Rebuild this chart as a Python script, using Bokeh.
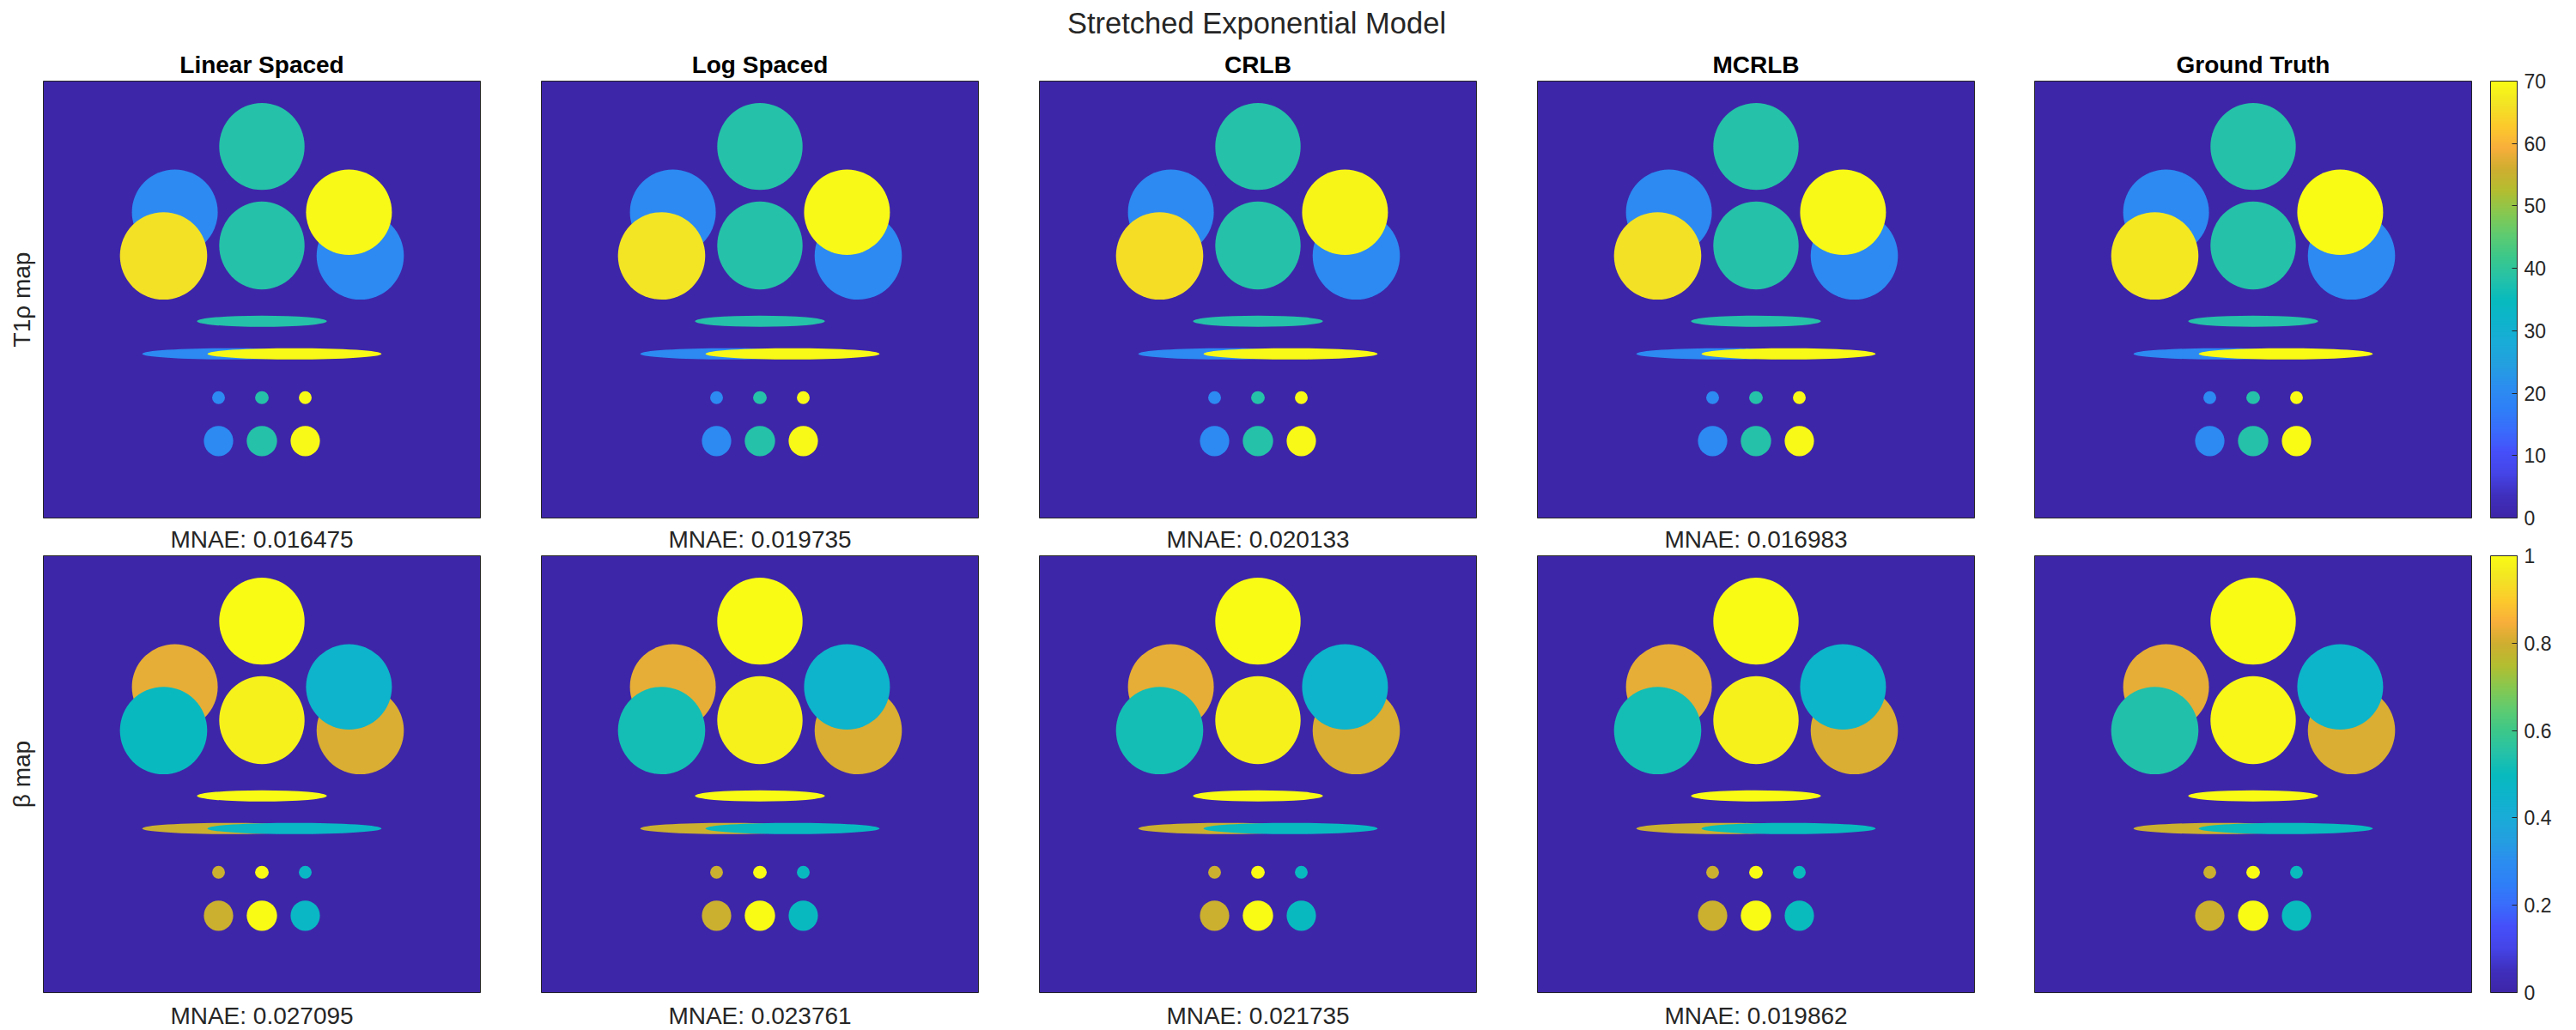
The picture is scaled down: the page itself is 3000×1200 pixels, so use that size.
import numpy as np
from bokeh.embed import file_html
from bokeh.layouts import column, row
from bokeh.models import ColorBar, ColumnDataSource, FixedTicker, LinearColorMapper, Range1d
from bokeh.plotting import figure
from bokeh.resources import INLINE
from bokeh.transform import transform

# ---- data -----------------------------------------------------------------
suptitle = "Stretched Exponential Model"
methods = ["Linear Spaced", "Log Spaced", "CRLB", "MCRLB", "Ground Truth"]
row_labels = ["T1\u03c1 map", "\u03b2 map"]
mnae_t1 = ["MNAE: 0.016475", "MNAE: 0.019735", "MNAE: 0.020133", "MNAE: 0.016983", ""]
mnae_beta = ["MNAE: 0.027095", "MNAE: 0.023761", "MNAE: 0.021735", "MNAE: 0.019862", ""]

# phantom compartments, in image pixels (256 x 256), back to front
shape_x = [128.0, 128.0, 77.0, 70.4, 185.6, 179.0, 128.0, 108.9, 147.1, 102.6, 128.0, 153.4, 102.6, 128.0, 153.4]
shape_y = [38.3, 96.3, 76.8, 102.4, 102.4, 76.8, 140.7, 159.8, 159.8, 185.5, 185.5, 185.5, 210.9, 210.9, 210.9]
shape_w = [50.0, 50.0, 50.3, 51.1, 51.1, 50.3, 76.0, 102.0, 102.0, 7.5, 8.0, 7.5, 17.2, 17.8, 17.2]
shape_h = [51.0, 51.5, 50.1, 51.3, 51.3, 50.1, 6.6, 6.6, 6.6, 7.5, 7.5, 7.5, 17.8, 17.8, 17.8]

# mean value of each compartment, per method
t1_linear = [38.5, 38.5, 20, 66.0, 20, 69.5, 38.5, 20, 69.5, 20, 38.5, 69.5, 20, 38.5, 69.5]
t1_log    = [38.5, 38.5, 20, 66.5, 20, 69.5, 38.5, 20, 69.5, 20, 38.5, 69.5, 20, 38.5, 69.5]
t1_crlb   = [38.5, 38.5, 20, 65.5, 20, 69.0, 38.5, 20, 69.5, 20, 38.5, 69.5, 20, 38.5, 69.5]
t1_mcrlb  = [38.5, 38.5, 20, 66.0, 20, 69.5, 38.5, 20, 69.5, 20, 38.5, 69.5, 20, 38.5, 69.5]
t1_truth  = [38.5, 38.5, 20, 67.0, 20, 70.0, 38.5, 20, 70.0, 20, 38.5, 70.0, 20, 38.5, 70.0]

beta_linear = [1.0, 0.98, 0.825, 0.49, 0.81, 0.45, 1.0, 0.79, 0.48, 0.79, 1.0, 0.48, 0.79, 1.0, 0.48]
beta_log    = [1.0, 0.98, 0.825, 0.52, 0.81, 0.45, 1.0, 0.79, 0.49, 0.79, 1.0, 0.49, 0.79, 1.0, 0.49]
beta_crlb   = [1.0, 0.98, 0.825, 0.52, 0.81, 0.45, 1.0, 0.79, 0.49, 0.79, 1.0, 0.49, 0.79, 1.0, 0.49]
beta_mcrlb  = [1.0, 0.98, 0.825, 0.52, 0.81, 0.46, 1.0, 0.79, 0.50, 0.79, 1.0, 0.50, 0.79, 1.0, 0.50]
beta_truth  = [1.0, 0.99, 0.825, 0.54, 0.81, 0.46, 1.0, 0.79, 0.50, 0.79, 1.0, 0.50, 0.79, 1.0, 0.50]

t1_rows = [t1_linear, t1_log, t1_crlb, t1_mcrlb, t1_truth]
beta_rows = [beta_linear, beta_log, beta_crlb, beta_mcrlb, beta_truth]

t1_ticks = [0, 10, 20, 30, 40, 50, 60, 70]
t1_tick_labels = ["0", "10", "20", "30", "40", "50", "60", "70"]
beta_ticks = [0, 0.2, 0.4, 0.6, 0.8, 1]
beta_tick_labels = ["0", "0.2", "0.4", "0.6", "0.8", "1"]

# colour map, bottom to top
cmap_stops = ["#3E26A8", "#4030BE", "#4545E8", "#4650FA", "#3A6CFC", "#2F80F8", "#2C8EF0",
              "#24A0E0", "#1AACD8", "#0EB4CC", "#08BBBE", "#26C2A8", "#3DC88A", "#60CC70",
              "#88C850", "#B4BE30", "#D0AE30", "#F9AF3C", "#FDCB2C", "#F3E425", "#F9FB15"]

# ---- layout (page pixels; the page is drawn from its very corner) ------------
FONT = "Liberation Sans"
INK = "#262626"
FRAME = 509
frame_left = [50, 630, 1210, 1790, 2369]
fig_start = [0, 600, 1180, 1760, 2339]
cb_start = 2888
HEAD_H = 54
CB_H = 1146


def build_palette(stops, n=256):
    rgb = np.array([[int(s[i:i + 2], 16) for i in (1, 3, 5)] for s in stops], float)
    pos = np.linspace(0, 1, len(stops))
    at = np.linspace(0, 1, n)
    chans = [np.interp(at, pos, rgb[:, c]) for c in range(3)]
    return ["#%02X%02X%02X" % (int(r), int(g), int(b)) for r, g, b in zip(*chans)]


palette = build_palette(cmap_stops)
mapper_t1 = LinearColorMapper(palette=palette, low=0, high=70)
mapper_beta = LinearColorMapper(palette=palette, low=0, high=1)


def panel(values, mapper, i, title, xlabel, ylabel, top, bottom, xstandoff):
    next_start = fig_start[i + 1] if i < 4 else cb_start
    left = frame_left[i] - fig_start[i]
    right = next_start - frame_left[i] - FRAME
    p = figure(frame_width=FRAME, frame_height=FRAME, output_backend="svg", toolbar_location=None,
               x_range=Range1d(0, 256), y_range=Range1d(256, 0),
               min_border_left=left, min_border_right=right, min_border_top=top, min_border_bottom=bottom,
               background_fill_color=cmap_stops[0], border_fill_color="white",
               outline_line_color=INK, outline_line_width=1)
    p.grid.visible = False
    if title:
        p.title.text = title
        p.title.align = "center"
        p.title.text_font = FONT
        p.title.text_font_size = "28px"
        p.title.text_font_style = "bold"
        p.title.text_color = "black"
        p.title.standoff = 7
    src = ColumnDataSource(dict(x=shape_x, y=shape_y, w=shape_w, h=shape_h, v=values))
    p.ellipse("x", "y", width="w", height="h", source=src,
              fill_color=transform("v", mapper), line_color=None)
    for ax in (p.xaxis[0], p.yaxis[0]):
        ax.ticker = FixedTicker(ticks=[])
        ax.axis_line_color = None
        ax.major_tick_line_color = None
        ax.minor_tick_line_color = None
        ax.axis_label_text_font = FONT
        ax.axis_label_text_font_size = "28px"
        ax.axis_label_text_font_style = "normal"
        ax.axis_label_text_color = INK
    if xlabel:
        p.xaxis[0].axis_label = xlabel
        p.xaxis[0].axis_label_standoff = xstandoff
    else:
        p.xaxis[0].visible = False
    if ylabel:
        p.yaxis[0].axis_label = ylabel
        p.yaxis[0].axis_label_standoff = 10
    else:
        p.yaxis[0].visible = False
    return p


def bar(mapper, ticks, labels, bottom_offset):
    return ColorBar(color_mapper=mapper, ticker=FixedTicker(ticks=ticks),
                    major_label_overrides={t: s for t, s in zip(ticks, labels)},
                    location=(0, bottom_offset), width=31, height=FRAME, margin=0, padding=0,
                    bar_line_color=INK, bar_line_width=1,
                    major_tick_line_color=INK, major_tick_in=6, major_tick_out=0,
                    minor_tick_line_color=None, label_standoff=8,
                    major_label_text_font=FONT, major_label_text_font_size="23px",
                    major_label_text_color=INK, background_fill_color=None)


cb_fig = figure(frame_width=74, frame_height=CB_H, output_backend="svg", toolbar_location=None,
                x_range=Range1d(0, 1), y_range=Range1d(0, 1),
                min_border_left=12, min_border_right=0, min_border_top=0, min_border_bottom=0,
                outline_line_color=None, background_fill_color=None, border_fill_color=None)
cb_fig.axis.visible = False
cb_fig.grid.visible = False
cb_fig.add_layout(bar(mapper_t1, t1_ticks, t1_tick_labels, 597), "center")
cb_fig.add_layout(bar(mapper_beta, beta_ticks, beta_tick_labels, 44), "center")

head = figure(width=2926, height=HEAD_H, output_backend="svg", toolbar_location=None,
              x_range=Range1d(0, 1), y_range=Range1d(0, 1),
              min_border_left=0, min_border_right=0, min_border_top=2, min_border_bottom=0,
              outline_line_color=None, title=suptitle)
head.axis.visible = False
head.grid.visible = False
head.title.align = "center"
head.title.text_font = FONT
head.title.text_font_size = "34.5px"
head.title.text_font_style = "normal"
head.title.text_color = INK

row1 = [panel(t1_rows[i], mapper_t1, i, methods[i], mnae_t1[i], row_labels[0] if i == 0 else None, 40, 44, 9)
        for i in range(5)]
row2 = [panel(beta_rows[i], mapper_beta, i, None, mnae_beta[i], row_labels[1] if i == 0 else None, 0, 44, 11)
        for i in range(5)]

maps = column(row(*row1, spacing=0), row(*row2, spacing=0), spacing=0)
page = column(head, row(maps, cb_fig, spacing=0), spacing=0)
open("out.html", "w").write(file_html(page, INLINE))
